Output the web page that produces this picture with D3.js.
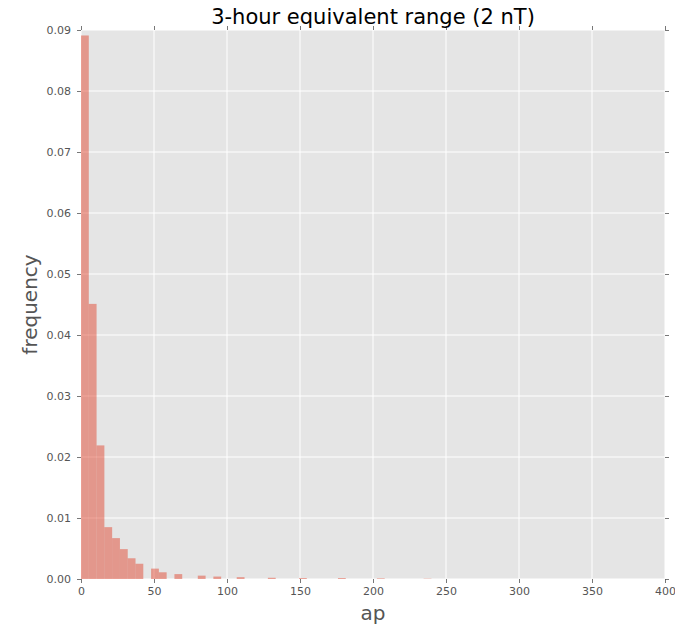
<!DOCTYPE html>
<html>
<head>
<meta charset="utf-8">
<script src="https://cdn.jsdelivr.net/npm/d3@7"></script>
<style>
  body { margin: 0; background: #fff; }
  svg { display: block; font-family: "DejaVu Sans", sans-serif; }
</style>
</head>
<body>
<div id="chart"></div>
<script>
// histogram of ap, 75 bins over 0..400, density normalised
const binWidth = 400 / 75;
const binLo = [0, 5.33, 10.67, 16, 21.33, 26.67, 32, 37.33, 48, 53.33, 64, 80, 90.67, 106.67, 128, 149.33, 176, 202.67, 234.67];
const freq  = [0.0891, 0.0451, 0.0219, 0.0085, 0.0067, 0.0049, 0.0034, 0.0025, 0.0017, 0.0011, 0.0008, 0.00055, 0.0004, 0.0003, 0.0002, 0.00015, 0.00015, 0.0001, 0.00005];
const xTicks = [0, 50, 100, 150, 200, 250, 300, 350, 400];
const yTicks = [0, 0.01, 0.02, 0.03, 0.04, 0.05, 0.06, 0.07, 0.08, 0.09];

const W = 675, H = 627;
const margin = { left: 81, right: 10, top: 30, bottom: 48 };

const svg = d3.select("#chart").append("svg")
    .attr("width", W)
    .attr("height", H);

const x = d3.scaleLinear().domain([0, 400]).range([margin.left, W - margin.right]);
const y = d3.scaleLinear().domain([0, 0.09]).range([H - margin.bottom, margin.top]);

// panel background
svg.append("rect")
    .attr("x", x(0)).attr("y", y(0.09))
    .attr("width", x(400) - x(0)).attr("height", y(0) - y(0.09))
    .attr("fill", "#e5e5e5");

// grid
svg.append("g").selectAll("line").data(xTicks).join("line")
    .attr("x1", d => x(d)).attr("x2", d => x(d))
    .attr("y1", y(0)).attr("y2", y(0.09))
    .attr("stroke", "#fff").attr("stroke-width", 1);
svg.append("g").selectAll("line").data(yTicks).join("line")
    .attr("x1", x(0)).attr("x2", x(400))
    .attr("y1", d => y(d)).attr("y2", d => y(d))
    .attr("stroke", "#fff").attr("stroke-width", 1);

// bars
svg.append("g").selectAll("rect").data(binLo).join("rect")
    .attr("x", d => x(d))
    .attr("y", (d, i) => y(freq[i]))
    .attr("width", d => x(d + binWidth) - x(d))
    .attr("height", (d, i) => y(0) - y(freq[i]))
    .attr("fill", "#e24a33")
    .attr("fill-opacity", 0.5);

// axes (ticks outward on all four sides)
function styleAxis(g) {
    g.select(".domain").remove();
    g.selectAll(".tick line").attr("stroke", "#555").attr("stroke-width", 0.8);
    g.selectAll(".tick text").attr("fill", "#555").style("font-size", "11px")
        .style("font-family", "DejaVu Sans, sans-serif");
}
svg.append("g")
    .attr("transform", `translate(0,${y(0)})`)
    .call(d3.axisBottom(x).tickValues(xTicks).tickSize(4).tickPadding(4).tickFormat(d3.format("d")))
    .call(styleAxis);
svg.append("g")
    .attr("transform", `translate(0,${y(0.09)})`)
    .call(d3.axisTop(x).tickValues(xTicks).tickSize(4).tickFormat(""))
    .call(styleAxis);
svg.append("g")
    .attr("transform", `translate(${x(0)},0)`)
    .call(d3.axisLeft(y).tickValues(yTicks).tickSize(4).tickPadding(6).tickFormat(d3.format(".2f")))
    .call(styleAxis);
svg.append("g")
    .attr("transform", `translate(${x(400)},0)`)
    .call(d3.axisRight(y).tickValues(yTicks).tickSize(4).tickFormat(""))
    .call(styleAxis);

// labels
const cx = (x(0) + x(400)) / 2;
svg.append("text")
    .attr("x", cx).attr("y", 24)
    .attr("text-anchor", "middle")
    .style("font-size", "21px")
    .attr("fill", "#000")
    .text("3-hour equivalent range (2 nT)");

svg.append("text")
    .attr("x", cx).attr("y", 620)
    .attr("text-anchor", "middle")
    .style("font-size", "20px")
    .attr("fill", "#555")
    .text("ap");

svg.append("text")
    .attr("transform", `translate(37,${(y(0) + y(0.09)) / 2}) rotate(-90)`)
    .attr("text-anchor", "middle")
    .style("font-size", "20px")
    .attr("fill", "#555")
    .text("frequency");
</script>
</body>
</html>
